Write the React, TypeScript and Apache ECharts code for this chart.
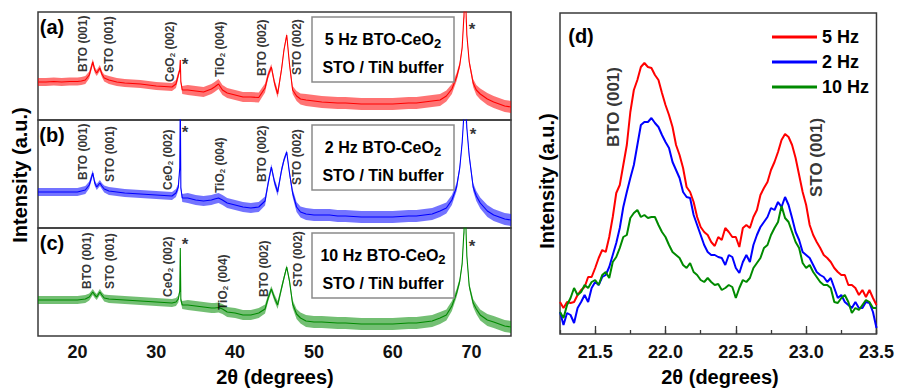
import React, { useEffect, useRef } from "react";
import * as echarts from "echarts";

const FONT = "'Liberation Sans', Arial, Helvetica, sans-serif";

// ---------- Panels (a)-(c): full 2θ scans (arbitrary intensity units, panel height = 108) ----------
const xrdTheta = [
  15, 16, 17, 18, 19, 20, 20.5, 21, 21.5, 21.95,
  22.2, 22.45, 22.85, 23.1, 23.4, 24, 25, 26, 27, 28,
  29, 30, 31, 32, 32.5, 32.8, 32.98, 33.05, 33.12, 33.3,
  34, 35, 36, 37, 37.4, 37.9, 38.4, 39, 40, 41,
  42, 43, 43.8, 44.2, 44.6, 45.0, 45.4, 45.9, 46.2, 46.55,
  46.9, 47.3, 47.8, 48.3, 49, 50, 51, 52, 53, 54,
  55, 56, 57, 58, 59, 60, 61, 62, 63, 64,
  65, 66, 66.8, 67.5, 68.1, 68.5, 68.8, 69.0, 69.2, 69.4,
  69.7, 70.2, 70.6, 71.1, 72, 72.8, 73.5, 74.2, 75,
];
const xrd5Hz = [
  38, 38, 38.5, 38, 38.5, 38.5, 39, 40, 45, 58,
  50, 47, 52, 46, 42, 40, 38, 37, 36.5, 36,
  35, 34, 33.5, 33, 36, 45, 50, 60, 38, 30,
  30, 29, 28, 31, 33, 36, 30, 27, 25, 23,
  23, 22.5, 32, 45, 53, 37, 26, 51, 70, 85,
  56, 30, 24, 21, 20, 19, 18, 17.5, 17, 17,
  16.5, 16, 16, 16, 16, 16, 16.5, 17, 17, 18,
  19, 20, 24, 31, 43, 55, 72, 100, 130, 85,
  58, 37, 30, 26, 21, 18, 16, 14, 13,
];
const xrd2Hz = [
  36, 36, 36, 36, 36, 36, 37, 38, 43, 55,
  45, 41, 45, 42, 39, 37, 36, 35, 34.5, 34,
  33.5, 33, 32.5, 32, 35, 41, 60, 130, 40, 30,
  30, 28, 27, 28, 29, 30, 28, 25, 23, 21,
  20, 21, 27, 45, 61, 46, 36, 58, 68, 76,
  55, 35, 21, 16, 14, 13, 13, 13, 12, 12,
  11.5, 11, 11, 11, 11, 11, 11.5, 12, 12, 13,
  14, 17, 20, 28, 41, 60, 85, 110, 130, 100,
  72, 41, 32, 25, 17, 13, 11, 9, 8,
];
const xrd10Hz = [
  36, 36, 36, 36, 36, 36, 36.5, 37, 39, 44,
  41, 39, 44, 41, 38, 37, 36.5, 36, 35.5, 35,
  34.5, 34, 33.5, 33, 34, 37, 45, 88, 36, 31,
  31, 30, 29, 28, 28, 28.5, 27, 24, 23, 21,
  21, 23, 27, 38, 47, 38, 31, 48, 58, 69,
  55, 32, 22, 18, 15, 14, 14, 13.5, 13, 13,
  12.5, 12, 12, 12, 12, 12, 12.5, 13, 13, 14,
  15, 18, 21, 30, 43, 55, 72, 100, 130, 80,
  50, 33, 27, 21, 16, 14, 12, 10, 9,
];
// half thickness of the noise band seen on the scans
const xrdNoise = [
  4, 4, 4, 4, 4, 4, 4, 4, 3.5, 3,
  3, 3, 3, 3, 3.5, 4, 4, 4, 4, 4,
  4, 4, 4, 4, 4, 3.5, 2, 1, 2, 4,
  5, 5, 5, 5, 5, 5, 5, 5, 5, 5,
  5, 5, 4.5, 3.5, 3, 3.5, 4, 3, 2.5, 2,
  3, 4, 5, 5.5, 6, 6, 6, 6, 6, 6,
  6, 6, 6, 6, 6, 6, 6, 6, 6, 6,
  6, 6, 5.5, 5, 4, 3, 2.5, 2, 1.5, 2,
  3, 4, 5, 5.5, 6, 6, 6, 6, 6,
];

// ---------- Panel (d): zoom on the (001) reflections ----------
const zoomTheta = [
  21.25, 21.275, 21.3, 21.325, 21.35, 21.375, 21.4, 21.425, 21.45, 21.475,
  21.5, 21.525, 21.55, 21.575, 21.6, 21.625, 21.65, 21.675, 21.7, 21.725,
  21.75, 21.775, 21.8, 21.825, 21.85, 21.875, 21.9, 21.925, 21.95, 21.975,
  22, 22.025, 22.05, 22.075, 22.1, 22.125, 22.15, 22.175, 22.2, 22.225,
  22.25, 22.275, 22.3, 22.325, 22.35, 22.375, 22.4, 22.425, 22.45, 22.475,
  22.5, 22.525, 22.55, 22.575, 22.6, 22.625, 22.65, 22.675, 22.7, 22.725,
  22.75, 22.775, 22.8, 22.825, 22.85, 22.875, 22.9, 22.925, 22.95, 22.975,
  23, 23.025, 23.05, 23.075, 23.1, 23.125, 23.15, 23.175, 23.2, 23.225,
  23.25, 23.275, 23.3, 23.325, 23.35, 23.375, 23.4, 23.425, 23.45, 23.475,
  23.5,
];
const zoom5Hz = [
  32, 26, 32, 31, 32, 39, 44, 47, 57, 57,
  66, 76, 84, 82, 97, 117, 141, 149, 169, 189,
  222, 244, 254, 267, 271, 267, 266, 259, 254, 241,
  229, 219, 207, 189, 179, 166, 147, 142, 132, 117,
  107, 102, 99, 92, 88, 97, 94, 106, 102, 97,
  97, 87, 106, 109, 106, 117, 124, 139, 146, 152,
  164, 172, 182, 194, 200, 197, 189, 176, 159, 142,
  129, 109, 99, 92, 86, 79, 76, 72, 66, 62,
  59, 59, 49, 49, 46, 39, 44, 37, 44, 36,
  29,
];
const zoom2Hz = [
  22, 9, 21, 19, 11, 26, 32, 39, 32, 46,
  52, 49, 57, 59, 67, 79, 91, 106, 127, 142,
  156, 169, 189, 209, 212, 212, 216, 211, 207, 199,
  192, 186, 172, 164, 156, 142, 137, 136, 119, 109,
  99, 89, 82, 79, 79, 77, 76, 69, 79, 77,
  66, 61, 72, 79, 72, 89, 99, 107, 112, 117,
  126, 124, 132, 127, 137, 129, 116, 102, 94, 82,
  79, 76, 69, 62, 59, 57, 52, 56, 46, 36,
  39, 32, 29, 26, 32, 26, 26, 32, 31, 22,
  6,
];
const zoom10Hz = [
  22, 16, 29, 36, 46, 39, 42, 49, 46, 52,
  54, 49, 59, 62, 56, 72, 77, 86, 97, 99,
  116, 121, 124, 117, 119, 116, 117, 117, 109, 102,
  97, 89, 82, 79, 76, 69, 66, 71, 62, 59,
  54, 52, 56, 52, 49, 50, 44, 46, 49, 47,
  36, 46, 54, 52, 56, 66, 71, 76, 86, 89,
  99, 106, 112, 128, 116, 112, 102, 92, 86, 71,
  66, 69, 62, 57, 52, 49, 49, 46, 32, 31,
  36, 39, 32, 21, 26, 24, 29, 34, 32, 26,
  26,
];

// ---------- Text ----------
const frequencies = ["5 Hz", "2 Hz", "10 Hz"];
const panelLetters = ["(a)", "(b)", "(c)"];
const xTickLabelsLeft = [20, 30, 40, 50, 60, 70];
const xTickLabelsRight = [21.5, 22.0, 22.5, 23.0, 23.5];
const peakNames = ["BTO (001)", "STO (001)", "CeO{s|2} (002)", "TiO{s|2} (004)", "BTO (002)", "STO (002)"];
// anchor (2θ, height) of the bottom end of each vertical peak label
const peakAnchors = [
  [[20.7, 48], [24.0, 48], [31.75, 38], [38.1, 43], [43.4, 44], [47.85, 45]],
  [[20.7, 48], [24.15, 46], [31.5, 38], [38.1, 35], [43.4, 46], [47.85, 43]],
  [[21.2, 47], [24.15, 47], [31.5, 39], [38.45, 26], [43.65, 39], [47.98, 49]],
];
const starAnchors = [
  [[33.65, 60], [70.05, 95]],
  [[33.65, 100], [70.2, 98]],
  [[33.65, 96], [70.05, 94]],
];
const zoomPeakNames = ["BTO (001)", "STO (001)"];
const zoomPeakAnchors = [[21.632, 187], [23.075, 137]];

const COLORS = ["#ff0000", "#0000ff", "#008a00"];
const FRAME = "#3a3a3a";
const PANEL_MAX = 108;

function buildOption() {
  const patterns = [xrd5Hz, xrd2Hz, xrd10Hz];
  const tops = [12, 120, 228];
  const grids: any[] = tops.map((t) => ({
    left: 38, top: t, width: 473, height: 108,
    show: true, borderColor: FRAME, borderWidth: 1.5, backgroundColor: "transparent",
  }));
  grids.push({ left: 560, top: 13, width: 318, height: 321, show: true, borderColor: FRAME, borderWidth: 1.5 });

  const xAxes: any[] = tops.map((_, p) => ({
    type: "value", gridIndex: p, min: 15, max: 75, interval: 5,
    axisLine: { show: false }, axisTick: { show: false }, splitLine: { show: false },
    axisLabel: {
      show: p === 2, margin: 7, fontSize: 18, fontWeight: "bold", color: "#111", fontFamily: FONT,
      formatter: (v: number) => (xTickLabelsLeft.indexOf(v) >= 0 ? String(v) : ""),
    },
  }));
  xAxes.push({
    type: "value", gridIndex: 3, min: 21.25, max: 23.5, interval: 0.25,
    axisLine: { show: false }, splitLine: { show: false },
    axisTick: { show: true, inside: true, length: 4, lineStyle: { color: FRAME, width: 1.3 } },
    axisLabel: {
      margin: 9, fontSize: 18, fontWeight: "bold", color: "#111", fontFamily: FONT, showMinLabel: true, showMaxLabel: true,
      formatter: (v: number) => (xTickLabelsRight.some((t) => Math.abs(t - v) < 1e-6) ? v.toFixed(1) : ""),
    },
  });
  xAxes.push({
    type: "value", gridIndex: 3, min: 21.25, max: 23.5, position: "bottom",
    axisLine: { show: false }, splitLine: { show: false }, axisLabel: { show: false },
    axisTick: { show: true, inside: true, length: 8, customValues: xTickLabelsRight, lineStyle: { color: FRAME, width: 1.3 } },
  });

  const yAxes: any[] = tops.map((_, p) => ({ type: "value", gridIndex: p, min: 0, max: PANEL_MAX, show: false }));
  yAxes.push({ type: "value", gridIndex: 3, min: 0, max: 321, show: false });

  const series: any[] = [];
  patterns.forEach((vals, p) => {
    const c = COLORS[p];
    // noise band: polygon between upper and lower envelopes, placed through the axes' scales
    series.push({
      type: "custom", name: "band" + p, xAxisIndex: p, yAxisIndex: p, silent: true, z: 1,
      data: xrdTheta.map((x, i) => [x, vals[i]]),
      renderItem: (params: any, api: any) => {
        if (params.dataIndex !== 0) return null;
        const clampV = (v: number) => Math.max(0, Math.min(PANEL_MAX, v));
        const upper = xrdTheta.map((x, i) => api.coord([x, clampV(vals[i] + xrdNoise[i])]));
        const lower = xrdTheta.map((x, i) => api.coord([x, clampV(vals[i] - xrdNoise[i])])).reverse();
        return {
          type: "polygon",
          shape: { points: upper.concat(lower) },
          style: { fill: c, opacity: 0.55 },
        };
      },
    });
    series.push({
      type: "line", name: "core" + p, xAxisIndex: p, yAxisIndex: p, symbol: "none", silent: true, z: 2,
      data: xrdTheta.map((x, i) => [x, vals[i]]), lineStyle: { color: c, width: 1.1 }, itemStyle: { color: c },
    });
    series.push({
      type: "scatter", name: "peaks" + p, xAxisIndex: p, yAxisIndex: p, symbolSize: 1, silent: true, z: 5,
      itemStyle: { color: "rgba(0,0,0,0)" },
      data: peakAnchors[p].map((a, k) => ({ name: peakNames[k], value: a })),
      label: {
        show: true, position: "inside", rotate: 90, align: "left", verticalAlign: "middle",
        formatter: (d: any) => d.name, fontSize: 12, fontWeight: "bold", color: "#000", fontFamily: FONT, lineHeight: 14,
        rich: { s: { fontSize: 8, fontWeight: "bold", lineHeight: 9, padding: [5, 0, 0, 0], color: "#000", fontFamily: FONT } },
      },
    });
    series.push({
      type: "scatter", name: "stars" + p, xAxisIndex: p, yAxisIndex: p, symbolSize: 1, silent: true, z: 5,
      itemStyle: { color: "rgba(0,0,0,0)" },
      data: starAnchors[p].map((a) => ({ name: "*", value: a })),
      label: {
        show: true, position: "inside", align: "center", verticalAlign: "middle", offset: [0, 4],
        formatter: "*", fontSize: 17, fontWeight: "bold", color: "#000", fontFamily: FONT,
      },
    });
  });

  const zoomSets = [zoom5Hz, zoom2Hz, zoom10Hz];
  zoomSets.forEach((vals, k) => {
    series.push({
      type: "line", name: frequencies[k], xAxisIndex: 3, yAxisIndex: 3, symbol: "none", silent: true,
      data: zoomTheta.map((x, i) => [x, vals[i]]),
      lineStyle: { color: COLORS[k], width: 2 }, itemStyle: { color: COLORS[k] },
    });
  });
  series.push({
    type: "scatter", name: "zoomPeaks", xAxisIndex: 3, yAxisIndex: 3, symbolSize: 1, silent: true,
    itemStyle: { color: "rgba(0,0,0,0)" },
    data: zoomPeakNames.map((n, k) => ({ name: n, value: zoomPeakAnchors[k] })),
    label: {
      show: true, position: "inside", rotate: 90, align: "left", verticalAlign: "middle",
      formatter: (d: any) => d.name, fontSize: 17, fontWeight: "bold", color: "#000", fontFamily: FONT,
    },
  });

  const txt = (text: string, x: number, y: number, size: number, opts: any = {}) => ({
    type: "text", x, y, rotation: opts.rotation || 0, z: 100, silent: true,
    style: {
      text, fontSize: size, fontWeight: opts.weight || "bold", fontFamily: FONT, fill: "#000",
      align: "center", verticalAlign: "middle", rich: opts.rich,
    },
  });

  const graphic: any[] = [
    txt("Intensity (a.u.)", 20, 175, 20, { rotation: Math.PI / 2 }),
    txt("Intensity (a.u.)", 547, 181, 20, { rotation: Math.PI / 2 }),
    txt("2θ (degrees)", 275, 377, 20),
    txt("2θ (degrees)", 720, 377, 20),
    txt("(d)", 581, 36, 20),
  ];
  const boxFreq = ["5 Hz", "2 Hz", "10 Hz"];
  tops.forEach((t, p) => {
    graphic.push(txt(panelLetters[p], 52, t + 15, 20));
    graphic.push({
      type: "rect", z: 90, silent: true,
      shape: { x: 312, y: t + 5, width: 142, height: 65 },
      style: { fill: "#fff", stroke: "#8a8a8a", lineWidth: 1.5 },
    });
    graphic.push(
      txt("{m|" + boxFreq[p] + " BTO-CeO}{s|2}", 383, t + 27, 16, {
        rich: {
          m: { fontSize: 16, fontWeight: "bold", fontFamily: FONT, fill: "#000", lineHeight: 18 },
          s: { fontSize: 13, fontWeight: "bold", fontFamily: FONT, fill: "#000", lineHeight: 14, padding: [9, 0, 0, 0] },
        },
      })
    );
    graphic.push(txt("STO / TiN buffer", 383, t + 55, 16));
  });

  return {
    animation: false,
    backgroundColor: "#fff",
    textStyle: { fontFamily: FONT },
    grid: grids,
    xAxis: xAxes,
    yAxis: yAxes,
    legend: {
      data: frequencies, orient: "vertical", left: 767, top: 22, itemWidth: 45, itemHeight: 3,
      icon: "rect", itemGap: 5, selectedMode: false,
      textStyle: { fontSize: 18, fontWeight: "bold", color: "#000", fontFamily: FONT, lineHeight: 20 },
    },
    series,
    graphic,
  };
}

export default function App() {
  const ref = useRef<HTMLDivElement>(null);
  useEffect(() => {
    if (!ref.current) return;
    const chart = echarts.init(ref.current, undefined, { renderer: "svg" });
    chart.setOption(buildOption() as any);
    return () => chart.dispose();
  }, []);
  return (
    <div
      ref={ref}
      style={{ position: "absolute", left: 0, top: 0, width: 897, height: 388, background: "#fff" }}
    />
  );
}
